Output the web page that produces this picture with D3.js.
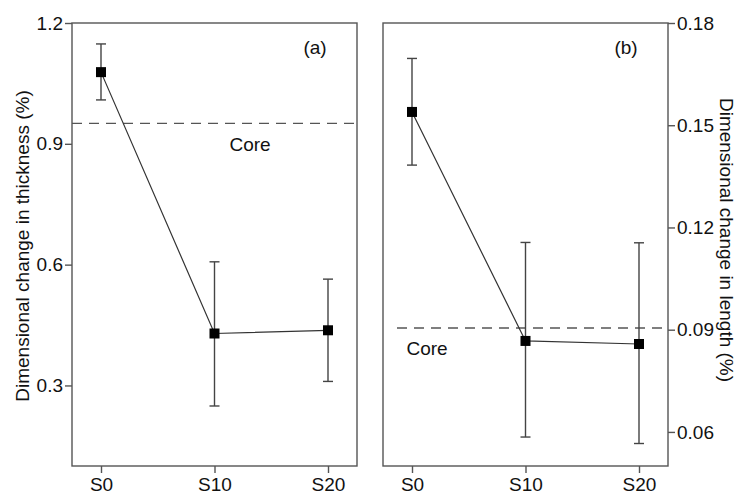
<!DOCTYPE html>
<html>
<head>
<meta charset="utf-8">
<script src="https://cdn.jsdelivr.net/npm/d3@7"></script>
<style>
  body { margin: 0; background: #fff; }
  svg { font-family: "Liberation Sans", Arial, sans-serif; }
</style>
</head>
<body>
<svg width="742" height="496"></svg>
<script>
var samples = ["S0", "S10", "S20"];

// panel (a): thickness
var thickMean = [1.078, 0.429, 0.437];
var thickHigh = [1.148, 0.607, 0.564];
var thickLow = [1.009, 0.249, 0.310];
var thickCore = 0.951;
var thickTicks = [0.3, 0.6, 0.9, 1.2];

// panel (b): length
var lenMean = [0.1539, 0.0867, 0.0858];
var lenHigh = [0.1696, 0.1156, 0.1155];
var lenLow = [0.1383, 0.0585, 0.0566];
var lenCore = 0.0905;
var lenTicks = [0.06, 0.09, 0.12, 0.15, 0.18];

var svg = d3.select('svg');
var lineCol = '#555';

function drawPanel(opt) {
    var g = svg.append('g');
    var x = d3.scalePoint().domain(samples)
        .range([opt.left + 29, opt.right - 29]);
    var y = d3.scaleLinear().domain(opt.domain).range([466, 23]);

    // frame
    g.append('rect')
        .attr('x', opt.left).attr('y', 23)
        .attr('width', opt.right - opt.left).attr('height', 443)
        .attr('fill', 'none').attr('stroke', lineCol).attr('stroke-width', 1.4);

    // x axis
    var xAxis = d3.axisBottom(x).tickSize(7).tickPadding(5);
    var xa = g.append('g').attr('transform', 'translate(0,466)').call(xAxis);
    xa.select('.domain').remove();

    // y axis
    var yAxis = (opt.side == 'left' ? d3.axisLeft(y) : d3.axisRight(y))
        .tickValues(opt.ticks).tickSize(7).tickPadding(2)
        .tickFormat(d3.format(opt.fmt));
    var ya = g.append('g')
        .attr('transform', 'translate(' + (opt.side == 'left' ? opt.left : opt.right) + ',0)')
        .call(yAxis);
    ya.select('.domain').remove();

    // axis groups carry their own font attrs, drop them so css applies
    [xa, ya].forEach(a => a.attr('font-family', null).attr('font-size', null));
    g.selectAll('.tick line').attr('stroke', lineCol).attr('stroke-width', 1.4);
    g.selectAll('.tick text').attr('fill', '#111').style('font-size', '19px');

    // core reference
    g.append('line')
        .attr('x1', opt.dashFrom).attr('x2', opt.dashTo)
        .attr('y1', y(opt.core)).attr('y2', y(opt.core))
        .attr('stroke', lineCol).attr('stroke-width', 1.3)
        .attr('stroke-dasharray', '10,7');
    g.append('text')
        .attr('x', opt.coreX).attr('y', y(opt.core) + opt.coreDy)
        .attr('text-anchor', 'middle').style('font-size', '19px').attr('fill', '#111')
        .text('Core');

    // panel label
    g.append('text')
        .attr('x', opt.right - 42).attr('y', 54)
        .attr('text-anchor', 'middle').style('font-size', '19px').attr('fill', '#111')
        .text(opt.label);

    // error bars
    var eb = g.selectAll('g.err').data(samples).enter().append('g').attr('class', 'err');
    eb.append('line')
        .attr('x1', d => x(d)).attr('x2', d => x(d))
        .attr('y1', (d, i) => y(opt.high[i])).attr('y2', (d, i) => y(opt.low[i]));
    eb.append('line')
        .attr('x1', d => x(d) - 5).attr('x2', d => x(d) + 5)
        .attr('y1', (d, i) => y(opt.high[i])).attr('y2', (d, i) => y(opt.high[i]));
    eb.append('line')
        .attr('x1', d => x(d) - 5).attr('x2', d => x(d) + 5)
        .attr('y1', (d, i) => y(opt.low[i])).attr('y2', (d, i) => y(opt.low[i]));
    eb.selectAll('line').attr('stroke', '#444').attr('stroke-width', 1.4);

    // connecting line
    var line = d3.line().x((d, i) => x(samples[i])).y(d => y(d));
    g.append('path')
        .datum(opt.mean)
        .attr('d', line)
        .attr('fill', 'none').attr('stroke', '#333').attr('stroke-width', 1.2);

    // markers
    g.selectAll('rect.pt').data(opt.mean).enter().append('rect')
        .attr('class', 'pt')
        .attr('x', (d, i) => x(samples[i]) - 5)
        .attr('y', d => y(d) - 5)
        .attr('width', 10).attr('height', 10)
        .attr('fill', '#000');

    // axis title
    var cy = opt.titleY;
    g.append('text')
        .attr('transform', 'translate(' + opt.titleX + ',' + cy + ') rotate(' + opt.rot + ')')
        .attr('text-anchor', 'middle')
        .style('font-size', '19px').attr('fill', '#111')
        .text(opt.title);
}

drawPanel({
    left: 72, right: 357, side: 'left', domain: [0.1, 1.2], ticks: thickTicks, fmt: '.1f',
    mean: thickMean, high: thickHigh, low: thickLow, core: thickCore,
    dashFrom: 72, dashTo: 357, coreX: 250, coreDy: 28, label: '(a)',
    title: 'Dimensional change in thickness (%)', titleX: 29, titleY: 246, rot: -90
});

drawPanel({
    left: 383, right: 668, side: 'right', domain: [0.05, 0.18], ticks: lenTicks, fmt: '.2f',
    mean: lenMean, high: lenHigh, low: lenLow, core: lenCore,
    dashFrom: 397, dashTo: 668, coreX: 427, coreDy: 27, label: '(b)',
    title: 'Dimensional change in length (%)', titleX: 720, titleY: 240, rot: 90
});
</script>
</body>
</html>
